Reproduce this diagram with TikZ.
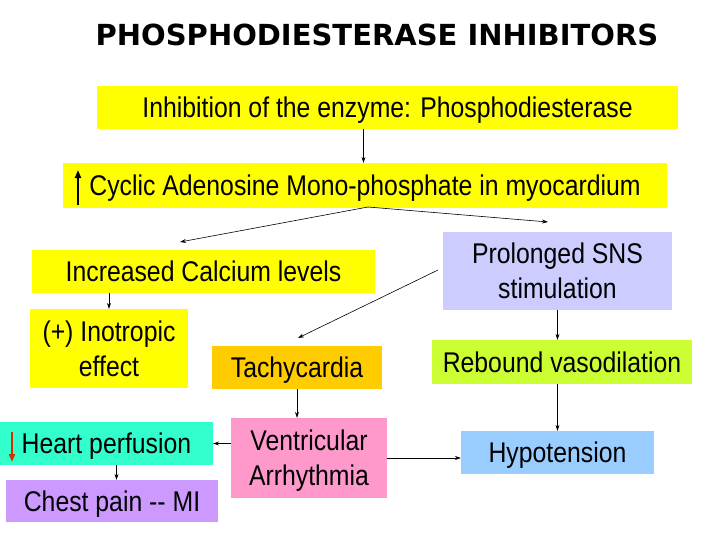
\documentclass[tikz,border=0pt]{standalone}
\usepackage{fontspec}
\setmainfont{Liberation Sans}
\newfontfamily\boxfont[FakeStretch=0.87]{Liberation Sans}
\newfontfamily\titlefont{DejaVu Sans}
\usetikzlibrary{arrows.meta}
\definecolor{cyel}{HTML}{FFFF00}
\definecolor{clav}{HTML}{CCCCFF}
\definecolor{corg}{HTML}{FFCC00}
\definecolor{cgrn}{HTML}{CCFF33}
\definecolor{ccyn}{HTML}{33FFCC}
\definecolor{cpnk}{HTML}{FF99CC}
\definecolor{cpur}{HTML}{CC99FF}
\definecolor{cblu}{HTML}{99CCFF}
\definecolor{cred}{HTML}{CC3300}
\begin{document}
\begin{tikzpicture}[x=1pt,y=-1pt,
  bx/.style={rectangle,inner sep=0pt,align=center,text height=20.5pt,text depth=0pt,font=\boxfont\fontsize{28.5}{35}\selectfont},
  bxtwo/.style={bx,text height=55.5pt},
  arr/.style={-{Stealth[length=6pt,width=4pt]},line width=0.6pt},
  uparr/.style={-{Triangle[length=8pt,width=6pt]},line width=2pt}]
\useasboundingbox (0,0) rectangle (728,546);
\node (title) at (377,35) {\titlefont\bfseries\fontsize{29}{34}\selectfont PHOSPHODIESTERASE INHIBITORS};
\node[bx,fill=cyel,minimum width=581pt,minimum height=43pt] (b1) at (387.5,107) {Inhibition of the enzyme: Phosphodiesterase};
\node[bx,fill=cyel,minimum width=604pt,minimum height=45pt] (b2) at (365,185.5) {Cyclic Adenosine Mono-phosphate in myocardium};
\coordinate (ua1) at (78,205);
\coordinate (ua2) at (78,170);
\draw[uparr] (ua1) -- (ua2);
\node[bx,fill=cyel,minimum width=343pt,minimum height=43pt] (b3) at (203.5,271.5) {Increased Calcium levels};
\node[bxtwo,fill=clav,minimum width=229pt,minimum height=78pt] (b4) at (557.5,271) {Prolonged SNS\\stimulation};
\node[bxtwo,fill=cyel,minimum width=158pt,minimum height=79pt] (b5) at (109,348.5) {(+) Inotropic\\effect};
\node[bx,fill=corg,minimum width=170pt,minimum height=43pt] (b6) at (297,367.5) {Tachycardia};
\node[bx,fill=cgrn,minimum width=260pt,minimum height=44pt] (b7) at (562,362) {Rebound vasodilation};
\node[bx,fill=ccyn,minimum width=213pt,minimum height=43pt] (b8) at (106.5,443.5) {Heart perfusion};
\coordinate (da1) at (12,432);
\coordinate (da2) at (12,462);
\draw[uparr,cred] (da1) -- (da2);
\node[bxtwo,fill=cpnk,minimum width=156pt,minimum height=80pt] (b9) at (309,458) {Ventricular\\Arrhythmia};
\node[bx,fill=cpur,minimum width=212pt,minimum height=42pt] (b10) at (112,501) {Chest pain -- MI};
\node[bx,fill=cblu,minimum width=193pt,minimum height=43pt] (b11) at (557.5,452.5) {Hypotension};
% connectors
\draw[arr] ([xshift=-24pt]b1.south) -- ([xshift=-24pt]b1.south |- b2.north);
\coordinate (s2) at (368,207);
\coordinate (e3) at (180,242);
\coordinate (e4) at (548,222);
\draw[arr] (s2) -- (e3);
\draw[arr] (s2) -- (e4);
\coordinate (s4) at (438,270);
\coordinate (e6) at (298,338);
\draw[arr] (s4) -- (e6);
\draw[arr] (b5.north |- b3.south) -- (b5.north);
\draw[arr] (b4.south) -- (b4.south |- b7.north);
\draw[arr] (b6.south) -- (b6.south |- b9.north);
\draw[arr] (b9.west |- b8.east) -- (b8.east);
\draw[arr] ([xshift=10pt]b8.south) -- ([xshift=10pt]b8.south |- b10.north);
\draw[arr] (b11.north |- b7.south) -- (b11.north);
\draw[arr] (b9.east) -- (b9.east -| b11.west);
\end{tikzpicture}
\end{document}
